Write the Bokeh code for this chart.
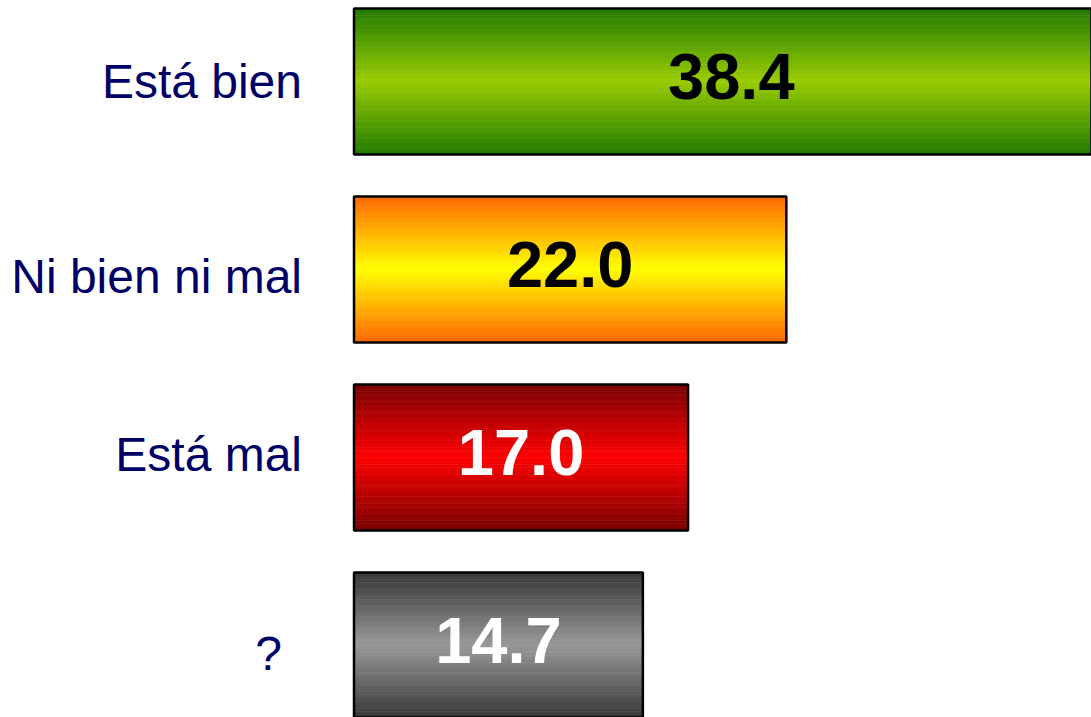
from bokeh.plotting import figure
from bokeh.models import Range1d, ColumnDataSource
from bokeh.core.properties import value
from bokeh.embed import file_html
from bokeh.resources import INLINE

# ---- data ----
categories = ["Está bien", "Ni bien ni mal", "Está mal", "?"]
values = [38.4, 22.0, 17.0, 14.7]
label_texts = ["38.4", "22.0", "17.0", "14.7"]

# ---- styles ----
edge_colors = [(0x20, 0x7a, 0x00), (0xff, 0x66, 0x00), (0x78, 0x00, 0x00), (0x36, 0x36, 0x36)]
center_colors = [(0x99, 0xcc, 0x00), (0xff, 0xff, 0x00), (0xff, 0x00, 0x00), (0x99, 0x99, 0x99)]
value_colors = ["black", "black", "white", "white"]
label_dx = [-52, -52, -52, -72]
label_dy = [0, 7, -3, 8]
BAR_H = 0.777
N_SLICES = 60

def hexcol(c):
    return "#%02x%02x%02x" % tuple(int(round(v)) for v in c)

ys = list(range(len(categories)))

# gradient slices built from the data values
sl_y, sl_right, sl_col = [], [], []
for i, (v, ec, cc) in enumerate(zip(values, edge_colors, center_colors)):
    for k in range(N_SLICES):
        f = (k + 0.5) / N_SLICES
        t = 1 - abs(2 * f - 1)
        col = tuple(ec[j] + (cc[j] - ec[j]) * t for j in range(3))
        sl_y.append(ys[i] - BAR_H / 2 + f * BAR_H)
        sl_right.append(v)
        sl_col.append(hexcol(col))

slices = ColumnDataSource(dict(y=sl_y, right=sl_right, color=sl_col))
bars = ColumnDataSource(dict(y=ys, right=values, cat=categories,
                             mid=[v / 2 for v in values], txt=label_texts,
                             tcol=value_colors, dx=label_dx, dy=label_dy))

p = figure(width=1091, height=717, output_backend="svg", toolbar_location=None,
           x_range=Range1d(-17.99, 37.53), y_range=Range1d(3.383, -0.431),
           min_border=0, min_border_left=0, min_border_right=0,
           min_border_top=0, min_border_bottom=0)
p.axis.visible = False
p.grid.visible = False
p.outline_line_color = None
p.background_fill_color = "white"
p.border_fill_color = "white"

p.hbar(y="y", left=0, right="right", height=BAR_H / N_SLICES * 1.05, source=slices,
       fill_color="color", line_color="color", line_width=0.6)
p.hbar(y="y", left=0, right="right", height=BAR_H, source=bars,
       fill_alpha=0, line_color="black", line_width=2.5)

p.text(x="mid", y="y", text="txt", source=bars, text_color="tcol", y_offset=-5,
       text_font=value("Liberation Sans"), text_font_style="bold",
       text_font_size="65px", text_align="center", text_baseline="middle")

p.text(x=0, y="y", text="cat", source=bars, x_offset="dx", y_offset="dy",
       text_color="#000066", text_font=value("Liberation Sans"),
       text_font_size="48px", text_align="right", text_baseline="middle")

open("out.html", "w").write(file_html(p, INLINE))
